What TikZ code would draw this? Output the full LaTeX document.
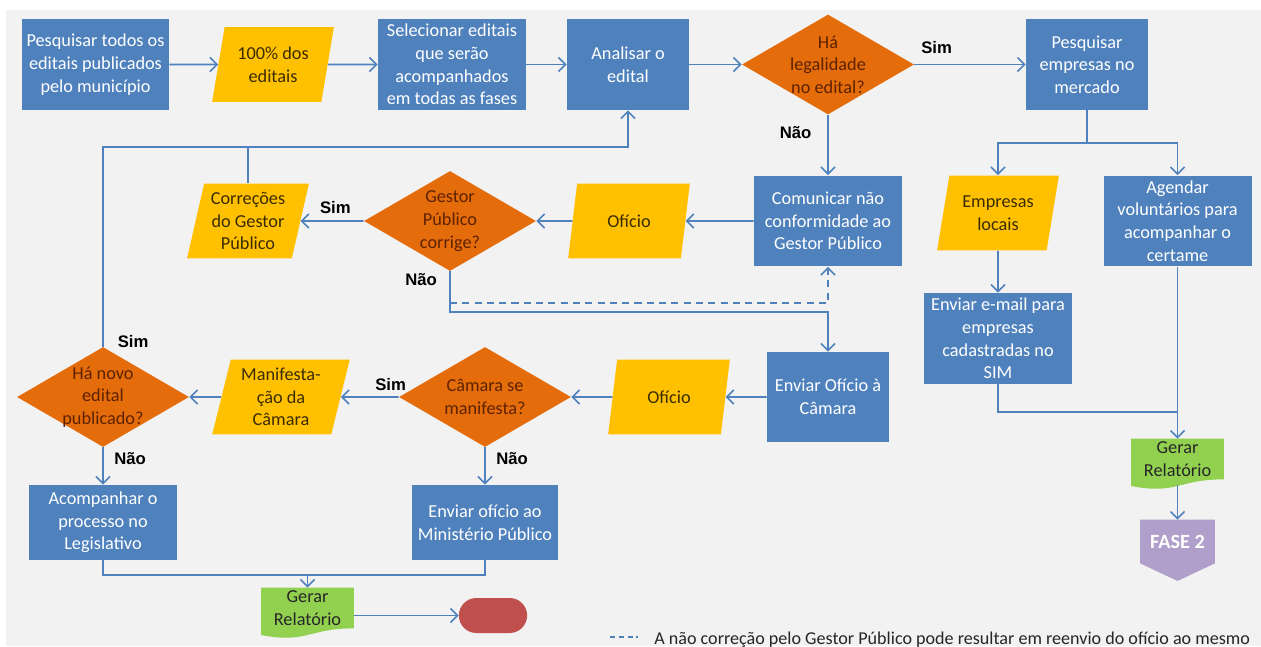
\documentclass[tikz,border=0pt]{standalone}
\usepackage{fontspec}
\setmainfont{Carlito}
\newfontfamily\lblfont{Liberation Sans}
\usetikzlibrary{arrows.meta,shapes.geometric,shapes.misc,backgrounds}

\definecolor{bgcol}{HTML}{F2F2F2}
\definecolor{boxblue}{HTML}{4F81BD}
\definecolor{lineblue}{HTML}{4F81BD}
\definecolor{ioyellow}{HTML}{FFC000}
\definecolor{decorange}{HTML}{E46C0A}
\definecolor{docgreen}{HTML}{92D050}
\definecolor{endred}{HTML}{C0504D}
\definecolor{faselilac}{HTML}{B09FCA}
\definecolor{iotext}{HTML}{3A2C00}
\definecolor{dectext}{HTML}{5E2200}

\newcommand{\txtsz}{\fontsize{10.4}{12.9}\selectfont}

\tikzset{
  proc/.style={rectangle, fill=boxblue, text=white, font=\txtsz, align=center, inner sep=1pt, minimum width=2.96cm, minimum height=1.82cm},
  io/.style={trapezium, trapezium left angle=76, trapezium right angle=104, trapezium stretches=true, fill=ioyellow, text=iotext, font=\txtsz, align=center, inner sep=1pt, minimum width=2.44cm, minimum height=1.5cm},
  dec/.style={diamond, fill=decorange, inner sep=0pt, minimum width=3.44cm, minimum height=2cm},
  dectxt/.style={text=dectext, font=\txtsz, align=center},
  docbox/.style={rectangle, text=black!85, font=\txtsz, align=center, inner sep=0pt, minimum width=1.84cm, minimum height=0.8cm},
  line/.style={draw=lineblue, line width=0.9pt},
  conn/.style={line, -{Straight Barb[length=4pt,width=8pt]}},
  lbl/.style={font=\lblfont\bfseries\fontsize{9.5}{11}\selectfont, text=black, inner sep=1pt}
}

\begin{document}
\begin{tikzpicture}[x=0.02cm, y=-0.02cm]
  \useasboundingbox (0,0) rectangle (1261,646);
  \begin{scope}[on background layer]
    \fill[white] (0,0) rectangle (1261,646);
    \fill[bgcol] (6,10) rectangle (1261,646);
  \end{scope}

  \node[proc, minimum width=2.94cm] (p1) at (95.5,64.5) {Pesquisar todos os\\editais publicados\\pelo município};
  \node[io] (io1) at (273,64.5) {100\% dos\\editais};
  \node[proc] (sel) at (452,64.5) {Selecionar editais\\que serão\\acompanhados\\em todas as fases};
  \node[proc, minimum width=2.44cm] (an) at (628,64.5) {Analisar o\\edital};
  \node[dec, label={[dectxt]center:{Há\\legalidade\\no edital?}}] (d1) at (828,64.5) {};
  \node[proc, minimum width=2.44cm] (pe) at (1087,64.5) {Pesquisar\\empresas no\\mercado};

  \node[io] (corr) at (248,221) {Correções\\do Gestor\\Público};
  \node[dec, label={[dectxt]center:{Gestor\\Público\\corrige?}}] (d2) at (450,221) {};
  \node[io] (of1) at (629,221) {Ofício};
  \node[proc] (com) at (828,221) {Comunicar não\\conformidade ao\\Gestor Público};
  \node[io] (io3) at (998,213) {Empresas\\locais};
  \node[proc] (ag) at (1177.5,221) {Agendar\\voluntários para\\acompanhar o\\certame};
  \node[proc] (email) at (998,338.5) {Enviar e-mail para\\empresas\\cadastradas no\\SIM};

  \node[dec, label={[dectxt]center:{Há novo\\edital\\publicado?}}] (d4) at (103,397) {};
  \node[io, minimum width=2.76cm] (manif) at (281,397) {Manifesta-\\ção da\\Câmara};
  \node[dec, label={[dectxt]center:{Câmara se\\manifesta?}}] (d3) at (485,397) {};
  \node[io] (of2) at (669,397) {Ofício};
  \node[proc, minimum width=2.44cm, minimum height=1.8cm] (env) at (828,397) {Enviar Ofício à\\Câmara};

  \node[proc, minimum height=1.5cm] (acomp) at (103,522.5) {Acompanhar o\\processo no\\Legislativo};
  \node[proc, minimum width=2.92cm, minimum height=1.5cm] (envMP) at (485,522.5) {Enviar ofício ao\\Ministério Público};
  \node[docbox] (rel2) at (307.5,608) {Gerar\\Relatório};
  \node[rounded rectangle, fill=endred, minimum width=1.6cm, minimum height=0.7cm] (endn) at (493,615.5) {};
  \node[docbox] (rel1) at (1177.5,459) {Gerar\\Relatório};
  \node[rectangle, text=white, font=\fontsize{11.5}{13}\selectfont\bfseries, minimum width=1.48cm, minimum height=0.86cm] (fase2) at (1177.5,541.5) {FASE 2};

  \begin{scope}[on background layer]
    \foreach \d in {rel1,rel2}
      \fill[docgreen] (\d.north west) -- (\d.north east) -- (\d.south east) .. controls (\d.south) and ([yshift=-8.8pt]\d.south) .. ([yshift=-3.8pt]\d.south west) -- cycle;
    \fill[faselilac] (fase2.north west) -- (fase2.north east) -- (fase2.south east) -- ([yshift=-10pt]fase2.south) -- (fase2.south west) -- cycle;
  \end{scope}

  \coordinate (spl) at (0,143);
  \coordinate (upln) at (0,147);
  \coordinate (dsh) at (0,303);
  \coordinate (nao2) at (0,312);
  \coordinate (jn2) at (0,412);
  \coordinate (jn) at (0,575);

  \draw[conn] (p1) -- (io1);
  \draw[conn] (io1) -- (sel);
  \draw[conn] (sel) -- (an);
  \draw[conn] (an) -- (d1);
  \draw[conn] (d1) -- node[lbl, pos=0.2, above=4.5pt] {Sim} (pe);
  \draw[conn] (d1) -- node[lbl, pos=0.3, left=8pt] {Não} (com);
  \draw[conn] (pe.south) -- (pe.south |- spl) -| (io3.north);
  \draw[conn] (pe.south) -- (pe.south |- spl) -| (ag.north);
  \draw[conn] (io3) -- (email);
  \draw[line] (email.south) |- (ag.south |- jn2);
  \draw[conn] (ag) -- (rel1);
  \draw[conn] ([yshift=-3pt]rel1.south) -- (fase2);

  \draw[conn] (com) -- (of1);
  \draw[conn] (of1) -- (d2);
  \draw[conn] (d2) -- node[lbl, pos=0.45, above=3pt] {Sim} (corr);
  \draw[line] (corr.north) -- (corr.north |- upln);
  \draw[conn] (d4.north) node[lbl, anchor=west, xshift=7pt, yshift=3pt] {Sim} -- (d4.north |- upln) -| (an.south);
  \draw[conn] (d2.south) node[lbl, anchor=north east, xshift=-6pt, yshift=0pt] {Não} -- (d2.south |- nao2) -| (env.north);
  \draw[conn, dash pattern=on 4pt off 3pt] (d2.south |- dsh) -| (com.south);

  \draw[conn] (env) -- (of2);
  \draw[conn] (of2) -- (d3);
  \draw[conn] (d3) -- node[lbl, pos=0.14, above=2pt] {Sim} (manif);
  \draw[conn] (manif) -- (d4);
  \draw[conn] (d4) -- node[lbl, pos=0.29, right=5pt] {Não} (acomp);
  \draw[conn] (d3) -- node[lbl, pos=0.29, right=5pt] {Não} (envMP);
  \draw[line] (acomp.south) |- (envMP.south |- jn) -- (envMP.south);
  \draw[conn] (rel2.north |- jn) -- (rel2.north);
  \draw[conn] (rel2.east |- endn.west) -- (endn.west);

  \coordinate (lg1) at (610,637);
  \coordinate (lg2) at (638,637);
  \draw[line, dash pattern=on 3pt off 2pt] (lg1) -- (lg2);
  \node[anchor=base west, font=\fontsize{10.3}{12}\selectfont, text=black!85, inner sep=0pt] (legtxt) at (654,644) {A não correção pelo Gestor Público pode resultar em reenvio do ofício ao mesmo};
\end{tikzpicture}
\end{document}
